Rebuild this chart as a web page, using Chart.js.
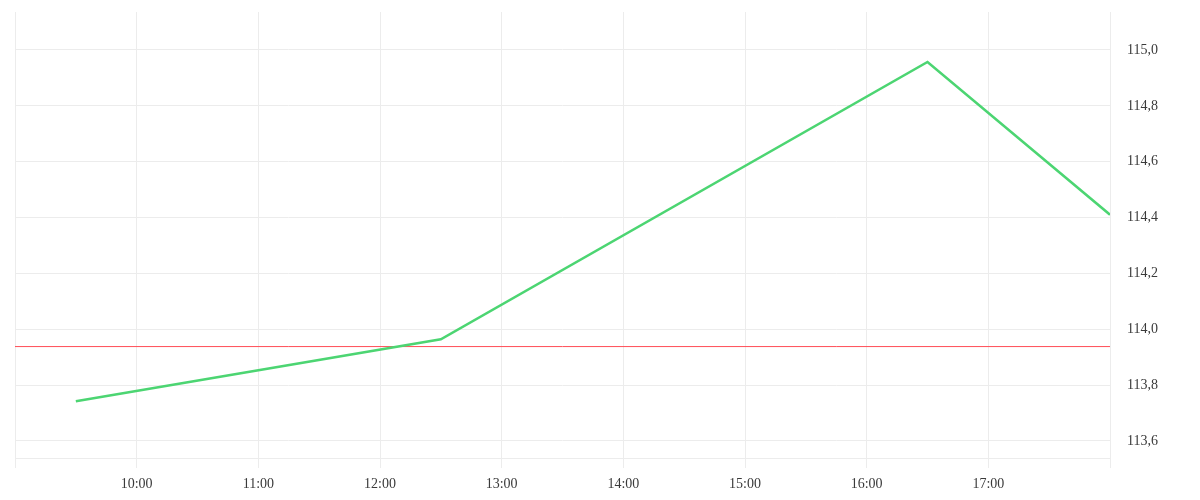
<!DOCTYPE html>
<html>
<head>
<meta charset="utf-8">
<script src="https://cdn.jsdelivr.net/npm/chart.js@4"></script>
<style>
    html, body { margin: 0; padding: 0; background: #fff; }
    #wrap { width: 1200px; height: 500px; }
</style>
</head>
<body>
<div id="wrap"><canvas id="priceChart"></canvas></div>
<script>
// Chart data
const times = ['09:30', '12:30', '16:30', '18:00'];
const prices = [113.742, 113.964, 114.957, 114.41];

// Reference level (red line), spans whole day
const refTimes = ['09:00', '18:00'];
const refLevel = [113.938, 113.938];

// Axis ticks
const hourTicks = ['09:00', '10:00', '11:00', '12:00', '13:00', '14:00', '15:00', '16:00', '17:00', '18:00'];
const hourLabels = ['', '10:00', '11:00', '12:00', '13:00', '14:00', '15:00', '16:00', '17:00', ''];
const priceTicks = [113.6, 113.8, 114.0, 114.2, 114.4, 114.6, 114.8, 115.0];

function toHours(t) {
    const [h, m] = t.split(':').map(Number);
    return h + m / 60;
}

const gridColor = '#ececec';
const fontCfg = { family: '"Liberation Serif", serif', size: 14 };

new Chart(document.getElementById('priceChart'), {
    type: 'line',
    data: {
        datasets: [
            {
                data: times.map((t, i) => ({ x: toHours(t), y: prices[i] })),
                borderColor: '#4cd572',
                borderWidth: 2.5,
                pointRadius: 0,
                tension: 0,
            },
            {
                data: refTimes.map((t, i) => ({ x: toHours(t), y: refLevel[i] })),
                borderColor: '#ff4d57',
                borderWidth: 1,
                pointRadius: 0,
            },
        ],
    },
    options: {
        responsive: true,
        maintainAspectRatio: false,
        animation: false,
        layout: { padding: { left: 15, top: 12 } },
        plugins: {
            legend: { display: false },
            tooltip: { enabled: false },
        },
        scales: {
            x: {
                type: 'linear',
                min: toHours(hourTicks[0]),
                max: toHours(hourTicks[hourTicks.length - 1]),
                afterBuildTicks: axis => {
                    axis.ticks = hourTicks.map(t => ({ value: toHours(t) }));
                },
                afterFit: axis => {
                    axis.height = 42;
                    axis.paddingLeft = 0;
                    axis.paddingRight = 0;
                },
                grid: { color: gridColor, tickLength: 10 },
                border: { color: gridColor },
                ticks: {
                    font: fontCfg,
                    color: '#3a3a3a',
                    padding: 8,
                    maxRotation: 0,
                    autoSkip: false,
                    callback: (v, i) => hourLabels[i],
                },
            },
            y: {
                position: 'right',
                min: 113.539,
                max: 115.136,
                afterBuildTicks: axis => {
                    axis.ticks = priceTicks.map(v => ({ value: v }));
                },
                afterFit: axis => {
                    axis.width = 90;
                    axis.paddingTop = 0;
                    axis.paddingBottom = 0;
                },
                grid: { color: gridColor, drawTicks: false },
                border: { color: gridColor },
                ticks: {
                    font: fontCfg,
                    color: '#3a3a3a',
                    padding: 17,
                    callback: v => v.toFixed(1).replace('.', ','),
                },
            },
        },
    },
});
</script>
</body>
</html>
